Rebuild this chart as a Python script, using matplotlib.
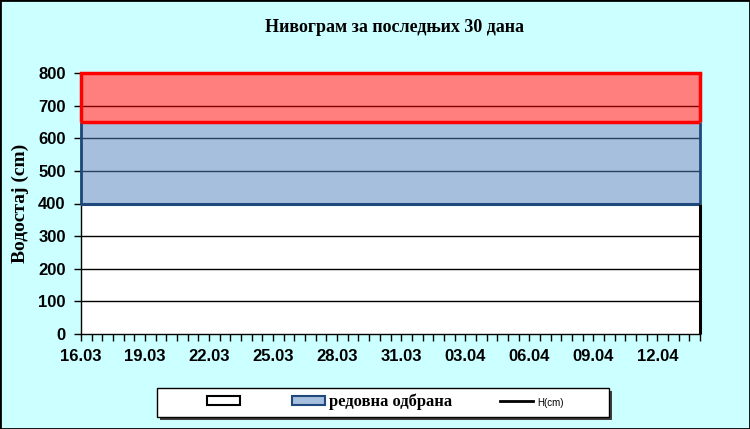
import numpy as np
import matplotlib.pyplot as plt
from matplotlib.lines import Line2D
import datetime as dt

# dates for the last 30 days
start = dt.date(2024, 3, 16)
dates = [start + dt.timedelta(days=i) for i in range(30)]
labels = [d.strftime('%d.%m') for d in dates]

# band limits (cm)
normal_low = [400] * len(dates)
normal_high = [650] * len(dates)
emergency_high = [800] * len(dates)
h_cm = []  # no water level readings

yticks = [0, 100, 200, 300, 400, 500, 600, 700, 800]

bg = '#CCFFFF'
serif = 'Liberation Serif'
sans = 'Liberation Sans'

fig = plt.figure(figsize=(7.5, 4.29), dpi=100, facecolor=bg)
fig.patches.append(plt.Rectangle((0, 0), 1, 1, transform=fig.transFigure,
                                 fill=False, edgecolor='black', linewidth=2))
ax = fig.add_axes([81 / 750, 1 - 334 / 429, 619 / 750, 261 / 429])

x = np.arange(len(dates))

# gridlines under the semi-transparent bands
for y in yticks[1:-1]:
    ax.axhline(y, color='black', linewidth=1, zorder=1)

blue = ax.fill_between(x, normal_low, normal_high, facecolor='#4F81BD', alpha=0.5,
                       linewidth=0, zorder=2)
red = ax.fill_between(x, normal_high, emergency_high, facecolor='#FF0000', alpha=0.5,
                      linewidth=0, zorder=2)
# band borders
ax.plot(x, normal_low, color='#1F497D', linewidth=2.2, zorder=3)
ax.vlines([x[0], x[-1]], normal_low[0], normal_high[0], color='#1F497D', linewidth=2,
          zorder=3, clip_on=False, capstyle='butt')
ax.plot(x, normal_high, color='#FF0000', linewidth=2.5, zorder=4)
ax.plot(x, emergency_high, color='#FF0000', linewidth=2.5, zorder=4, clip_on=False)
ax.vlines([x[0], x[-1]], normal_high[0], emergency_high[0], color='#FF0000', linewidth=2.5,
          zorder=4, clip_on=False)
ax.vlines(x[-1], 0, normal_low[0], color='black', linewidth=2.2, zorder=3, clip_on=False,
          capstyle='butt')
ax.plot(x[:len(h_cm)], h_cm, color='black', linewidth=2)

ax.set_xlim(0, len(dates) - 1)
ax.set_ylim(0, 800)
ax.set_facecolor('white')
for s in ['top', 'right']:
    ax.spines[s].set_visible(False)
ax.spines['left'].set_linewidth(1)
ax.spines['bottom'].set_linewidth(1)

ax.set_yticks(yticks)
ax.set_xticks(x[::3])
ax.set_xticklabels(labels[::3])
ax.set_xticks(np.arange(0, len(dates) - 0.5, 0.5), minor=True)
ax.tick_params(axis='both', which='major', direction='out', length=5, width=1, pad=6)
ax.tick_params(axis='x', which='minor', direction='out', length=5, width=1)
for lab in ax.get_xticklabels() + ax.get_yticklabels():
    lab.set_fontfamily(sans)
    lab.set_fontweight('bold')
    lab.set_fontsize(12)

ax.set_ylabel('Водостај (cm)', fontfamily=serif, fontweight='bold', fontsize=14, labelpad=7)
fig.text(395 / 750, 1 - 27 / 429, 'Нивограм за последњих 30 дана', ha='center', va='center',
         fontfamily=serif, fontweight='bold', fontsize=13)

# legend box with shadow
fig.patches.append(plt.Rectangle((160 / 750, 1 - 420 / 429), 452 / 750, 29 / 429,
                                 transform=fig.transFigure, facecolor='#3F3F3F',
                                 edgecolor='none', zorder=5))
fig.patches.append(plt.Rectangle((157 / 750, 1 - 417 / 429), 452 / 750, 29 / 429,
                                 transform=fig.transFigure, facecolor='white',
                                 edgecolor='black', linewidth=1, zorder=6))

h_white = plt.Rectangle((0, 0), 1, 1, facecolor='white', edgecolor='black', linewidth=1.5)
h_blue = plt.Rectangle((0, 0), 1, 1, facecolor='#A7BFDE', edgecolor='#1F497D', linewidth=1.5)
h_line = Line2D([], [], color='black', linewidth=2)
leg = fig.legend([h_white, h_blue, h_line], ['', 'редовна одбрана', 'H(cm)'], ncol=3,
                 loc='center left', bbox_to_anchor=(207 / 750, 1 - 402 / 429),
                 frameon=False, borderpad=0, borderaxespad=0, columnspacing=2.9,
                 handlelength=2.0, handleheight=0.5, handletextpad=0.2,
                 prop={'family': serif, 'weight': 'bold', 'size': 12})
leg.set_zorder(7)
leg.get_texts()[2].set_fontfamily(sans)
leg.get_texts()[2].set_fontweight('normal')
leg.get_texts()[2].set_fontsize(7)

fig.savefig('out.png', dpi=100, facecolor=bg)
